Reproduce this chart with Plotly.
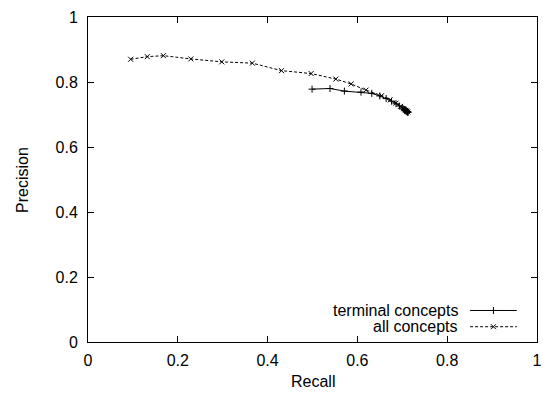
import plotly.graph_objects as go

# terminal concepts
term_recall = [0.499, 0.539, 0.571, 0.608, 0.632, 0.650, 0.664, 0.676, 0.686, 0.694,
               0.700, 0.703, 0.705, 0.707, 0.708, 0.709, 0.710, 0.711, 0.711, 0.712, 0.712, 0.713]
term_precision = [0.778, 0.780, 0.772, 0.769, 0.765, 0.757, 0.749, 0.741, 0.733, 0.726,
                  0.720, 0.717, 0.715, 0.713, 0.712, 0.711, 0.710, 0.709, 0.708, 0.708, 0.707, 0.707]

# all concepts
all_recall = [0.095, 0.132, 0.168, 0.229, 0.298, 0.366, 0.431, 0.497, 0.552, 0.586,
              0.619, 0.654, 0.673, 0.686, 0.696, 0.703, 0.707, 0.710, 0.712]
all_precision = [0.870, 0.878, 0.881, 0.871, 0.862, 0.858, 0.835, 0.826, 0.809, 0.794,
                 0.775, 0.758, 0.745, 0.735, 0.725, 0.718, 0.713, 0.710, 0.708]

series_names = ["terminal concepts", "all concepts"]
x_ticks = [0, 0.2, 0.4, 0.6, 0.8, 1]
y_ticks = [0, 0.2, 0.4, 0.6, 0.8, 1]
x_tick_text = ["0", "0.2", "0.4", "0.6", "0.8", "1"]
y_tick_text = ["0", "0.2", "0.4", "0.6", "0.8", "1"]

FONT = "Liberation Sans, Arial, Helvetica, sans-serif"
FS = 16

fig = go.Figure()
fig.add_trace(go.Scatter(
    x=term_recall, y=term_precision, mode="lines+markers", name=series_names[0],
    line=dict(color="black", width=1),
    marker=dict(symbol="cross-thin", size=5, color="black", line=dict(color="black", width=1)),
    showlegend=False))
fig.add_trace(go.Scatter(
    x=all_recall, y=all_precision, mode="lines+markers", name=series_names[1],
    line=dict(color="black", width=1, dash="3px,2px"),
    marker=dict(symbol="x-thin", size=5, color="black", line=dict(color="black", width=1)),
    showlegend=False))

# legend built gnuplot-style: text on the left, sample on the right
legend_rows_y = [0.097, 0.047]
symbols = ["cross-thin", "x-thin"]
dashes = ["solid", "3px,2px"]
for i, name in enumerate(series_names):
    fig.add_annotation(x=0.822, y=legend_rows_y[i], xref="paper", yref="paper",
                       text=name, showarrow=False, xanchor="right", yanchor="middle",
                       xshift=2, borderpad=0,
                       font=dict(family=FONT, size=FS, color="black"))
    fig.add_shape(type="line", xref="paper", yref="paper",
                  x0=0.851, x1=0.955, y0=legend_rows_y[i], y1=legend_rows_y[i],
                  line=dict(color="black", width=1, dash=dashes[i]))
    fig.add_trace(go.Scatter(
        x=[0.903], y=[legend_rows_y[i]], xaxis="x2", yaxis="y2", mode="markers",
        marker=dict(symbol=symbols[i], size=5, color="black", line=dict(color="black", width=1)),
        showlegend=False, hoverinfo="skip"))

# axis titles
fig.add_annotation(x=0.5, y=-0.12, xref="paper", yref="paper", text="Recall",
                   showarrow=False, xanchor="center", yanchor="middle",
                   font=dict(family=FONT, size=FS, color="black"))
fig.add_annotation(x=-0.146, y=0.5, xref="paper", yref="paper", text="Precision",
                   showarrow=False, xanchor="center", yanchor="middle", textangle=-90,
                   font=dict(family=FONT, size=FS, color="black"))

axis_common = dict(showline=True, linecolor="black", linewidth=1, mirror="ticks",
                   ticks="inside", ticklen=6, tickcolor="black", tickwidth=1,
                   showgrid=False, zeroline=False, automargin=False,
                   tickfont=dict(family=FONT, size=FS, color="black"))

fig.update_layout(
    width=543, height=394,
    margin=dict(l=88, r=6, t=17, b=52),
    plot_bgcolor="white", paper_bgcolor="white",
    xaxis=dict(range=[0, 1], tickvals=x_ticks, ticktext=x_tick_text,
               ticklabelstandoff=4, **axis_common),
    yaxis=dict(range=[0, 1], tickvals=y_ticks, ticktext=y_tick_text,
               ticklabelstandoff=6, **axis_common),
    xaxis2=dict(range=[0, 1], overlaying="x", visible=False),
    yaxis2=dict(range=[0, 1], overlaying="y", visible=False),
)

fig.write_html("out.html", config={"displayModeBar": False},
               post_script="document.body.style.margin='0';document.body.style.padding='0';")
